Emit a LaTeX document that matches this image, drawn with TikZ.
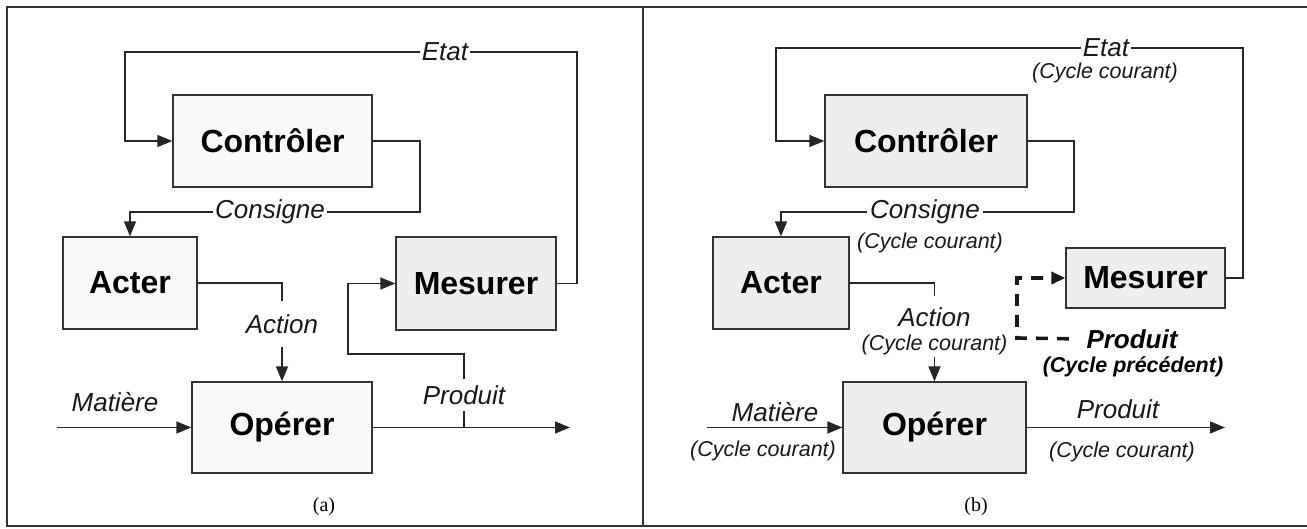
\documentclass[tikz,border=0pt]{standalone}
\usepackage{fontspec}
\setmainfont{Liberation Sans}
\newfontfamily\capfont{Liberation Serif}
\usetikzlibrary{arrows.meta}
\begin{document}
\begin{tikzpicture}[x=1pt,y=-1pt,
  ln/.style={line width=1.4pt, draw=black!85},
  arr/.style={ln, -{Triangle[length=15pt,width=12pt]}},
  dsh/.style={line width=3.6pt, draw=black!90, dash pattern=on 12pt off 9pt, -{Triangle[length=14pt,width=12pt]}},
  boxa/.style={draw=black!80, line width=1.3pt, fill=gray!5, font=\fontsize{32}{36}\selectfont\bfseries, inner sep=0pt},
  boxb/.style={boxa, fill=gray!13},
  lbl/.style={font=\fontsize{26}{30}\selectfont\itshape, inner sep=1.5pt, text=black!90},
  sub/.style={font=\fontsize{21.5}{25}\selectfont\itshape, inner sep=1pt, text=black!90},
  blbl/.style={font=\fontsize{26}{30}\selectfont\bfseries\itshape, inner sep=1.5pt},
  bsub/.style={font=\fontsize{21.5}{25}\selectfont\bfseries\itshape, inner sep=1pt},
  captxt/.style={font=\capfont\fontsize{20}{24}\selectfont, inner sep=1pt},
  framestyle/.style={line width=1.3pt, draw=black!80}
]
\useasboundingbox (0,0) rectangle (1307,529);
\fill[white] (0,0) rectangle (1307,529);
% frame
\draw[framestyle] (1307,7) -- (7,7) -- (7,526) -- (1307,526);
\draw[framestyle] (643,7) -- (643,526);

% ===== Panel (a) =====
\node[boxa, minimum width=199pt, minimum height=92pt] (ctrlA) at (272.5,141) {Contrôler};
\node[boxa, minimum width=134pt, minimum height=92pt] (acA) at (130,283) {Acter};
\node[boxb, minimum width=160pt, minimum height=93pt] (mesA) at (476,283.5) {Mesurer};
\node[boxa, minimum width=180pt, minimum height=91pt] (opA) at (282,427.5) {Opérer};

\node[lbl] (etatA) at (445,52) {Etat};
\node[lbl] (consA) at (270,212) {Consigne};
\node[lbl, inner ysep=13pt] (actA) at (282,324) {Action};
\node[lbl] (matA) at (115,402) {Matière};
\node[lbl, inner ysep=6pt] (prodA) at (464,395) {Produit};
\node[captxt] (capA) at (324,507) {(a)};

\coordinate (eA1) at (577,52);
\coordinate (eA2) at (125,52);
\coordinate (cA1) at (420,212);
\coordinate (mA) at (57,427.5);
\coordinate (pA) at (570,427.5);
\coordinate (brA) at (464,427.5);
\coordinate (bA1) at (464,354);
\coordinate (bA2) at (348,354);

\draw[ln] (mesA.east) -| (eA1) -- (etatA.east);
\draw[arr] (etatA.west) -- (eA2) |- (ctrlA.west);
\draw[ln] (ctrlA.east) -| (cA1) -- (consA.east);
\draw[arr] (consA.west) -| (acA.north);
\draw[ln] (acA.east) -| (actA.north);
\draw[arr] (actA.south) -- (opA.north);
\draw[arr] (mA) -- (opA.west);
\draw[arr] (opA.east) -- (pA);
\draw[ln] (brA) -- (prodA.south);
\draw[arr] (prodA.north) -- (bA1) -- (bA2) |- (mesA.west);

% ===== Panel (b) =====
\node[boxb, minimum width=202pt, minimum height=92pt] (ctrlB) at (926,141) {Contrôler};
\node[boxb, minimum width=136pt, minimum height=92pt] (acB) at (781,283) {Acter};
\node[boxb, minimum width=159pt, minimum height=60pt] (mesB) at (1145.5,278) {Mesurer};
\node[boxb, minimum width=183pt, minimum height=91pt] (opB) at (934.5,427.5) {Opérer};

\node[lbl] (etatB) at (1106,48) {Etat};
\node[sub] (etatBs) at (1105,73) {(Cycle courant)};
\node[lbl, inner xsep=3pt] (consB) at (925,212) {Consigne};
\node[sub] (consBs) at (930,243) {(Cycle courant)};
\node[lbl, inner ysep=11pt] (actB) at (934.5,317) {Action};
\node[sub, inner ysep=1.5pt] (actBs) at (934.5,345) {(Cycle courant)};
\node[lbl] (matB) at (775,412) {Matière};
\node[sub] (matBs) at (763,451) {(Cycle courant)};
\node[lbl] (prodB) at (1118,409) {Produit};
\node[sub] (prodBs) at (1122,452) {(Cycle courant)};
\node[blbl] (pbB) at (1132,339) {Produit};
\node[bsub] (pbBs) at (1133,367) {(Cycle précédent)};
\node[captxt] (capB) at (976,507) {(b)};

\coordinate (eB1) at (1243,48);
\coordinate (eB2) at (776,48);
\coordinate (cB1) at (1074,212);
\coordinate (mB) at (707,427.5);
\coordinate (pB) at (1225,427.5);
\coordinate (dB1) at (1017,338);

\draw[ln] (mesB.east) -| (eB1) -- (etatB.east);
\draw[arr] (etatB.west) -- (eB2) |- (ctrlB.west);
\draw[ln] (ctrlB.east) -| (cB1) -- (consB.east);
\draw[arr] (consB.west) -| (acB.north);
\draw[ln] (acB.east) -| (actB.north);
\draw[arr] (actBs.south) -- (opB.north);
\draw[arr] (mB) -- (opB.west);
\draw[arr] (opB.east) -- (pB);
\draw[dsh, shorten <=16pt] (pbB.west) -- (dB1) |- (mesB.west);
\end{tikzpicture}
\end{document}
